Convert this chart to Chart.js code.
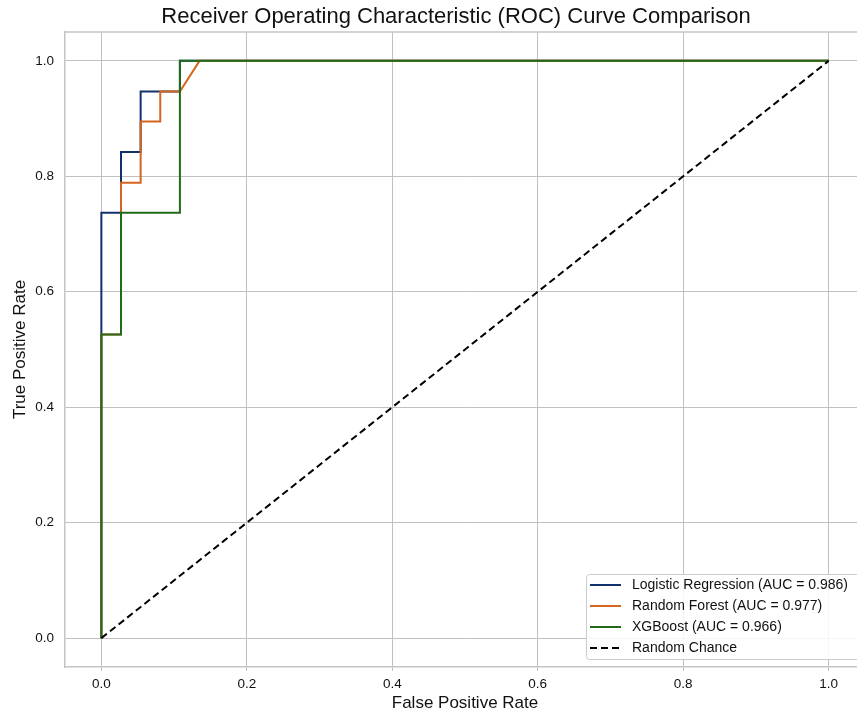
<!DOCTYPE html>
<html>
<head>
<meta charset="utf-8">
<title>ROC Curve Comparison</title>
<script src="https://cdn.jsdelivr.net/npm/chart.js@4.4.0/dist/chart.umd.min.js"></script>
<style>
  html, body { margin: 0; padding: 0; background: #fff; overflow: hidden; }
  #roc { display: block; }
</style>
</head>
<body>
<canvas id="roc" width="912" height="716"></canvas>
<script>
// ========== DATA ==========
const tickValues = [0, 0.2, 0.4, 0.6, 0.8, 1.0];

const seriesNames = [
  'Logistic Regression (AUC = 0.986)',
  'Random Forest (AUC = 0.977)',
  'XGBoost (AUC = 0.966)',
  'Random Chance'
];

const lrFpr = [0, 0, 0.027, 0.027, 0.054, 0.054, 0.108, 0.108, 1.0];
const lrTpr = [0, 0.737, 0.737, 0.842, 0.842, 0.947, 0.947, 1.0, 1.0];

const rfFpr = [0, 0, 0.027, 0.027, 0.054, 0.054, 0.081, 0.081, 0.108, 0.135, 1.0];
const rfTpr = [0, 0.526, 0.526, 0.789, 0.789, 0.895, 0.895, 0.947, 0.947, 1.0, 1.0];

const xgbFpr = [0, 0, 0.027, 0.027, 0.108, 0.108, 1.0];
const xgbTpr = [0, 0.526, 0.526, 0.737, 0.737, 1.0, 1.0];

const chanceFpr = [0, 1];
const chanceTpr = [0, 1];

const seriesColors = ['#12306b', '#d5661f', '#1f6b17', '#000000'];

// ========== HELPERS ==========
const FONT = '"Liberation Sans", Arial, Helvetica, sans-serif';
const toPoints = (xs, ys) => xs.map((x, i) => ({ x, y: ys[i] }));

function lineSet(i, xs, ys, order, dash) {
  return {
    label: seriesNames[i],
    data: toPoints(xs, ys),
    showLine: true,
    borderColor: seriesColors[i],
    backgroundColor: seriesColors[i],
    borderWidth: 2,
    borderDash: dash || [],
    pointRadius: 0,
    tension: 0,
    order
  };
}

// title, top spine and legend box drawn by hand
const decorations = {
  id: 'decorations',
  afterDraw(chart) {
    const { ctx, chartArea: a } = chart;
    ctx.save();

    // top spine
    ctx.strokeStyle = '#c4c4c4';
    ctx.lineWidth = 1.5;
    ctx.beginPath();
    ctx.moveTo(a.left, a.top);
    ctx.lineTo(a.right, a.top);
    ctx.stroke();

    // title
    ctx.fillStyle = '#111';
    ctx.font = '22px ' + FONT;
    ctx.textAlign = 'center';
    ctx.textBaseline = 'middle';
    ctx.fillText('Receiver Operating Characteristic (ROC) Curve Comparison', 456, 17);

    // legend
    const bx = 586, by = 574, bw = 280, bh = 85;
    ctx.fillStyle = 'rgba(255,255,255,0.85)';
    ctx.strokeStyle = '#cccccc';
    ctx.lineWidth = 1;
    ctx.beginPath();
    ctx.roundRect(bx + 0.5, by + 0.5, bw, bh, 3);
    ctx.fill();
    ctx.stroke();

    ctx.font = '14px ' + FONT;
    ctx.textAlign = 'left';
    chart.data.datasets.forEach((ds, i) => {
      const y = by + 11 + i * 21;
      ctx.strokeStyle = ds.borderColor;
      ctx.lineWidth = 2;
      ctx.setLineDash(ds.borderDash);
      ctx.beginPath();
      ctx.moveTo(bx + 4, y);
      ctx.lineTo(bx + 35, y);
      ctx.stroke();
      ctx.setLineDash([]);
      ctx.fillStyle = '#111';
      ctx.fillText(ds.label, bx + 46, y);
    });

    ctx.restore();
  }
};

// ========== CHART ==========
new Chart(document.getElementById('roc'), {
  type: 'scatter',
  data: {
    datasets: [
      lineSet(0, lrFpr, lrTpr, 3),
      lineSet(1, rfFpr, rfTpr, 2),
      lineSet(2, xgbFpr, xgbTpr, 1),
      lineSet(3, chanceFpr, chanceTpr, 0, [7, 4])
    ]
  },
  options: {
    responsive: false,
    animation: false,
    devicePixelRatio: 1,
    layout: { padding: { top: 32, right: 47, left: 0, bottom: 0 } },
    plugins: {
      legend: { display: false },
      tooltip: { enabled: false },
      title: { display: false }
    },
    scales: {
      x: {
        type: 'linear',
        min: -0.05,
        max: 1.05,
        afterBuildTicks: s => { s.ticks = tickValues.map(v => ({ value: v })); },
        afterFit: s => { s.height = 49; },
        grid: { color: '#c0c0c0', lineWidth: 1, drawTicks: true, tickLength: 4, tickColor: '#c0c0c0' },
        border: { color: '#c4c4c4', width: 1.5 },
        ticks: {
          color: '#111',
          padding: 5,
          maxRotation: 0,
          font: { family: FONT, size: 13.5 },
          callback: v => v.toFixed(1)
        },
        title: {
          display: true,
          text: 'False Positive Rate',
          color: '#111',
          font: { family: FONT, size: 17 },
          padding: { top: 0, bottom: 2 }
        }
      },
      y: {
        type: 'linear',
        min: -0.05,
        max: 1.05,
        afterBuildTicks: s => { s.ticks = tickValues.map(v => ({ value: v })); },
        afterFit: s => { s.width = 65; },
        grid: { color: '#c0c0c0', lineWidth: 1, drawTicks: false },
        border: { color: '#c4c4c4', width: 1.5 },
        ticks: {
          color: '#111',
          padding: 11,
          font: { family: FONT, size: 13.5 },
          callback: v => v.toFixed(1)
        },
        title: {
          display: true,
          text: 'True Positive Rate',
          color: '#111',
          font: { family: FONT, size: 17 },
          padding: { top: 10, bottom: 0 }
        }
      }
    }
  },
  plugins: [decorations]
});
</script>
</body>
</html>
